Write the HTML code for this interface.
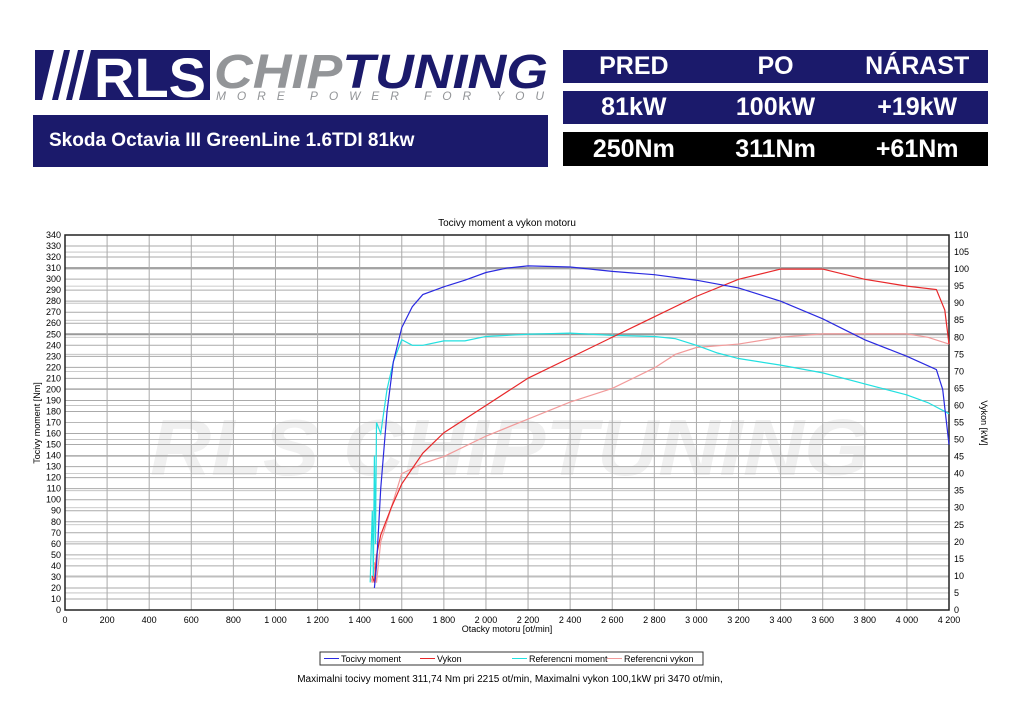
<!DOCTYPE html><html><head><meta charset="utf-8"><style>
body{margin:0;width:1024px;height:724px;background:#fff;position:relative;overflow:hidden;font-family:"Liberation Sans",sans-serif}
.nb{position:absolute;background:#1b1a6b;color:#fff;font-weight:bold}
.row{position:absolute;left:563px;width:425px;display:flex;color:#fff;font-weight:bold;font-size:25px;align-items:center}
.row span{flex:1;text-align:center}
</style></head><body>
<svg width="560" height="110" style="position:absolute;left:0;top:0" font-family="Liberation Sans, sans-serif">
<rect x="35" y="50" width="175" height="50" fill="#1b1a6b"/>
<g fill="#fff"><polygon points="42,100 52,100 64,50 54,50"/><polygon points="58,100 66,100 78,50 70,50"/><polygon points="72,100 79,100 91,50 84,50"/></g>
<text x="94" y="97" font-size="56" font-weight="bold" fill="#fff" textLength="112" lengthAdjust="spacingAndGlyphs">RLS</text>
<text x="214" y="88" font-size="48" font-weight="bold" font-style="italic" textLength="334" lengthAdjust="spacingAndGlyphs"><tspan fill="#939598">CHIP</tspan><tspan fill="#1b1a6b">TUNING</tspan></text>
<text x="216" y="100" font-size="12" font-style="italic" fill="#939598" textLength="328" lengthAdjust="spacing">MORE POWER FOR YOU</text>
</svg>
<div class="nb" style="left:33px;top:115px;width:515px;height:52px;font-size:19px;line-height:52px;padding-left:16px;box-sizing:border-box">Skoda Octavia III GreenLine 1.6TDI 81kw</div>
<div class="row" style="top:50px;height:33px;background:#1b1a6b"><span>PRED</span><span>PO</span><span>NÁRAST</span></div>
<div class="row" style="top:91px;height:33px;background:#1b1a6b"><span>81kW</span><span>100kW</span><span>+19kW</span></div>
<div class="row" style="top:132px;height:34px;background:#000"><span>250Nm</span><span>311Nm</span><span>+61Nm</span></div>
<svg id="c" width="1024" height="724" style="position:absolute;left:0;top:0" font-family="Liberation Sans, sans-serif"></svg>
<script>
const X0=65,X1=949,Y0=610,Y1=235;
const x=r=>X0+(X1-X0)*r/4200, y=n=>Y0-(Y0-Y1)*n/340, yk=k=>y(k*340/110);
let s='<text x="507" y="226" font-size="10" text-anchor="middle">Tocivy moment a vykon motoru</text>';
s+='<text x="150" y="475" font-size="80" font-weight="bold" font-style="italic" fill="#f0f0f0" textLength="720" lengthAdjust="spacingAndGlyphs">RLS CHIPTUNING</text>';
for(let n=0;n<=340;n+=10){const w=(n==310||n==250)?2:1;s+=`<line x1="${X0}" x2="${X1}" y1="${y(n)}" y2="${y(n)}" stroke="${w>1?'#999':'#aaa'}" stroke-width="${w}"/><text x="${X0-4}" y="${y(n)+3}" font-size="9" text-anchor="end">${n}</text>`}
for(let k=0;k<=110;k+=5){s+=`<line x1="${X0}" x2="${X1}" y1="${yk(k)}" y2="${yk(k)}" stroke="#bbb" stroke-width="0.8"/><text x="${X1+5}" y="${yk(k)+3}" font-size="9">${k}</text>`}
for(let r=0;r<=4200;r+=200){s+=`<line x1="${x(r)}" x2="${x(r)}" y1="${Y1}" y2="${Y0}" stroke="#aaa"/><text x="${x(r)}" y="${Y0+13}" font-size="9" text-anchor="middle">${r>=1000?Math.floor(r/1000)+' '+String(r%1000).padStart(3,'0'):r}</text>`}
s+=`<rect x="${X0}" y="${Y1}" width="${X1-X0}" height="${Y0-Y1}" fill="none" stroke="#222" stroke-width="1.5"/>`;
s+=`<text x="507" y="632" font-size="9" text-anchor="middle">Otacky motoru [ot/min]</text>`;
s+=`<text transform="translate(40,423) rotate(-90)" font-size="9" text-anchor="middle">Tocivy moment [Nm]</text>`;
s+=`<text transform="translate(981,423) rotate(90)" font-size="9" text-anchor="middle">Vykon [kW]</text>`;
function P(d,f,c){return `<polyline fill="none" stroke="${c}" stroke-width="1.2" points="${d.map(p=>x(p[0])+','+f(p[1])).join(' ')}"/>`}
const ct=[[1450,25],[1460,90],[1465,30],[1470,140],[1475,60],[1480,170],[1500,160],[1530,200],[1560,225],[1600,245],[1650,240],[1700,240],[1800,244],[1900,244],[2000,248],[2200,250],[2400,251],[2600,249],[2800,248],[2900,246],[3000,240],[3100,233],[3200,228],[3400,222],[3600,215],[3800,205],[4000,195],[4100,188],[4200,178]];
const pk=[[1450,10],[1460,8],[1470,14],[1480,8],[1500,20],[1550,30],[1600,40],[1700,43],[1800,45],[2000,51],[2200,56],[2400,61],[2600,65],[2800,71],[2900,75],[3000,77],[3200,78],[3400,80],[3600,81],[3800,81],[4000,81],[4100,80],[4200,78]];
const bt=[[1470,20],[1480,40],[1500,110],[1530,180],[1560,225],[1600,256],[1650,275],[1700,286],[1800,293],[1900,299],[2000,306],[2100,310],[2200,312],[2400,311],[2600,307],[2800,304],[3000,299],[3200,292],[3400,280],[3600,264],[3800,245],[4000,230],[4140,218],[4170,200],[4200,150]];
const rk=[[1460,10],[1470,8],[1480,16],[1500,22],[1550,30],[1600,37],[1700,46],[1800,52],[2000,60],[2200,68],[2400,74],[2600,80],[2800,86],[3000,92],[3200,97],[3400,100],[3600,100],[3800,97],[4000,95],[4140,94],[4180,88],[4200,78]];
s+=P(pk,yk,'#f29a9a')+P(ct,y,'#22e0e0')+P(rk,yk,'#e8282a')+P(bt,y,'#2a2ae0');
s+=`<rect x="320" y="652" width="383" height="13" fill="#fff" stroke="#333"/>`;
[['#2a2ae0','Tocivy moment',322],['#e8282a','Vykon',418],['#22e0e0','Referencni moment',510],['#f29a9a','Referencni vykon',605]].forEach(([c,t,a])=>{s+=`<line x1="${a+2}" x2="${a+17}" y1="658.5" y2="658.5" stroke="${c}"/><text x="${a+19}" y="662" font-size="9">${t}</text>`});
s+=`<text x="510" y="682" font-size="10" text-anchor="middle">Maximalni tocivy moment 311,74 Nm pri 2215 ot/min,  Maximalni vykon 100,1kW pri 3470 ot/min,</text>`;
document.getElementById('c').innerHTML=s;
</script>
</body></html>
